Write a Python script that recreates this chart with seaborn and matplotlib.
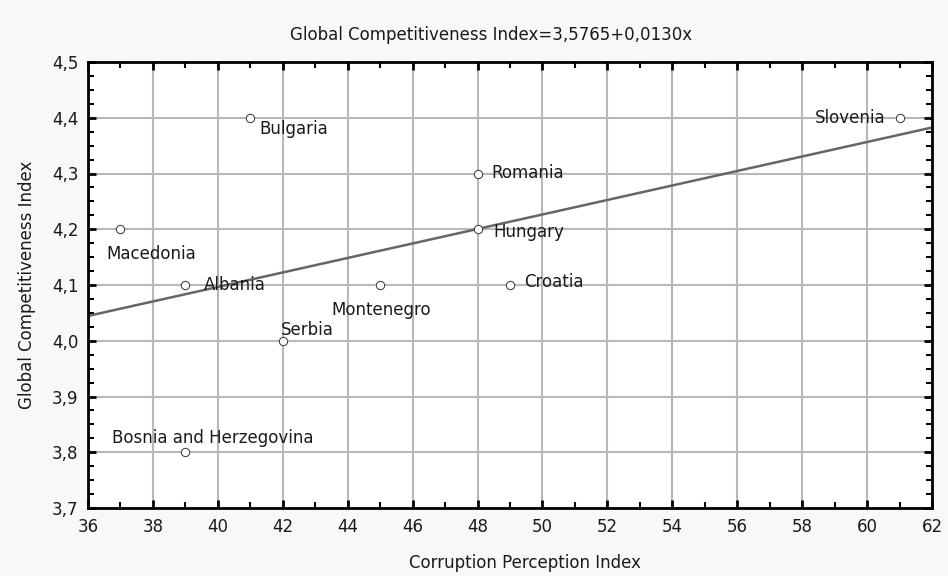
import matplotlib
matplotlib.use("Agg")
import numpy as np
import pandas as pd
import seaborn as sns
import matplotlib.pyplot as plt
from matplotlib.ticker import MultipleLocator, FuncFormatter

# ---- data ----
countries = ["Bulgaria", "Macedonia", "Albania", "Montenegro", "Serbia",
             "Bosnia and Herzegovina", "Croatia", "Romania", "Hungary", "Slovenia"]
cpi = [41, 37, 39, 45, 42, 39, 49, 48, 48, 61]
gci = [4.4, 4.2, 4.1, 4.1, 4.0, 3.8, 4.1, 4.3, 4.2, 4.4]
intercept = 3.5765
slope = 0.0130
title_text = "Global Competitiveness Index=3,5765+0,0130x"
x_label = "Corruption Perception Index"
y_label = "Global Competitiveness Index"

# label offsets (pixels) and alignment for each country
label_style = {
    "Bulgaria": (9, -11, "left"),
    "Macedonia": (-14, -25, "left"),
    "Albania": (18, 0, "left"),
    "Montenegro": (-49, -25, "left"),
    "Serbia": (-2, 11, "left"),
    "Bosnia and Herzegovina": (-73, 14, "left"),
    "Croatia": (14, 3, "left"),
    "Romania": (14, 0, "left"),
    "Hungary": (16, -3, "left"),
    "Slovenia": (-14, 0, "right"),
}

df = pd.DataFrame({"country": countries, "cpi": cpi, "gci": gci})

sns.set_theme(style="white")
plt.rcParams["font.family"] = ["DejaVu Sans"]

FS = 12
W, H = 948, 576
fig = plt.figure(figsize=(W / 100, H / 100), dpi=100, facecolor="#f8f8f8")
ax = fig.add_axes([88 / W, 1 - 508 / H, (932 - 88) / W, (508 - 62) / H])
ax.set_facecolor("white")

ax.set_xlim(36, 62)
ax.set_ylim(3.7, 4.5)
ax.xaxis.set_major_locator(MultipleLocator(2))
ax.xaxis.set_minor_locator(MultipleLocator(1))
ax.yaxis.set_major_locator(MultipleLocator(0.1))
ax.yaxis.set_minor_locator(MultipleLocator(0.025))
ax.xaxis.set_major_formatter(FuncFormatter(lambda v, p: f"{v:.0f}"))
ax.yaxis.set_major_formatter(FuncFormatter(lambda v, p: f"{v:.1f}".replace(".", ",")))

ax.grid(True, which="major", color="#b8b8b8", linewidth=1.5)
ax.set_axisbelow(True)

line_x = np.array([36.0, 62.0])
sns.lineplot(x=line_x, y=intercept + slope * line_x, color="#666666",
             linewidth=1.8, ax=ax, zorder=2)
sns.scatterplot(data=df, x="cpi", y="gci", marker="o", s=36, color="white",
                edgecolor="#333333", linewidth=0.7, ax=ax, zorder=3)

for c, x, y in zip(countries, cpi, gci):
    dx, dy, ha = label_style[c]
    ax.annotate(c, (x, y), xytext=(dx, dy), textcoords="offset pixels",
                ha=ha, va="center", fontsize=FS, color="#1a1a1a", zorder=4)

for s in ax.spines.values():
    s.set_color("black")
    s.set_linewidth(2)
ax.tick_params(which="both", direction="in", top=True, right=True,
               bottom=True, left=True, color="black")
ax.tick_params(which="major", length=6, width=2, labelsize=FS,
               labelcolor="#1a1a1a", pad=7)
ax.tick_params(which="minor", length=4, width=1.5)
ax.set_xlabel("")
ax.set_ylabel("")

fig.text(491 / W, 1 - 35 / H, title_text, ha="center", va="center",
         fontsize=FS, color="#1a1a1a")
fig.text(525 / W, 1 - 563 / H, x_label, ha="center", va="center",
         fontsize=FS, color="#1a1a1a")
fig.text(27 / W, 1 - 285 / H, y_label, ha="center", va="center",
         rotation=90, fontsize=FS, color="#1a1a1a")

fig.savefig("out.png", dpi=100, facecolor=fig.get_facecolor())
